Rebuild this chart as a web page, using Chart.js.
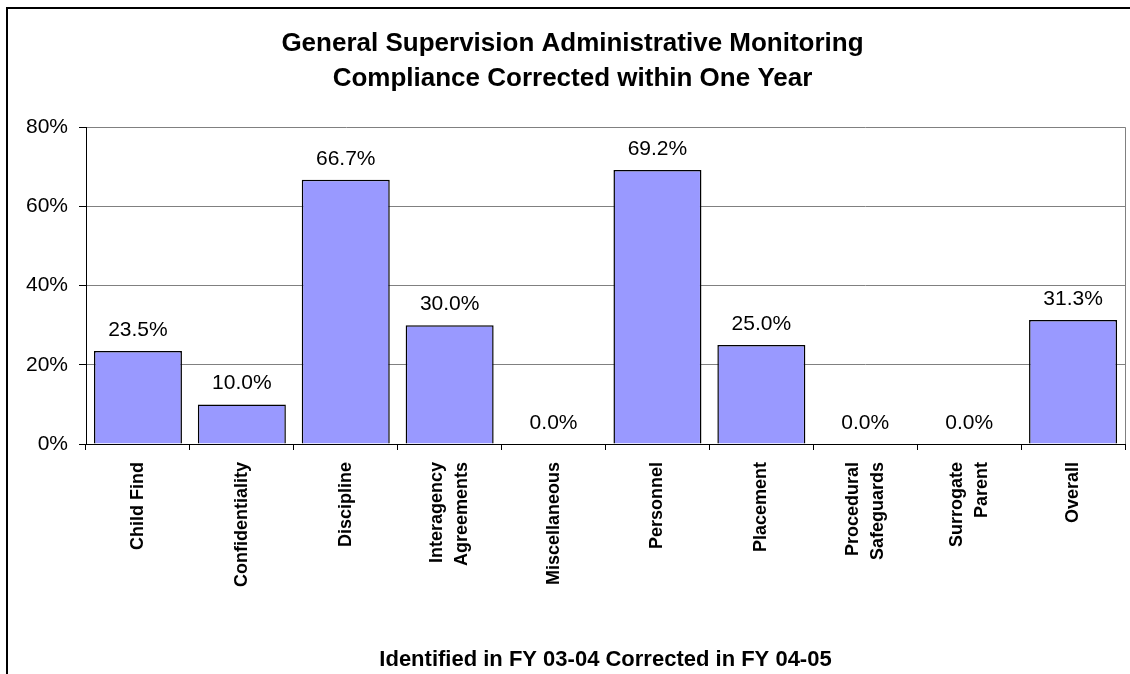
<!DOCTYPE html>
<html>
<head>
<meta charset="utf-8">
<title>General Supervision Administrative Monitoring</title>
<script src="https://cdn.jsdelivr.net/npm/chart.js@4.4.0/dist/chart.umd.min.js"></script>
<style>
  html, body { margin: 0; padding: 0; background: #ffffff; overflow: hidden; }
  #wrap { position: relative; width: 1130px; height: 674px; }
</style>
</head>
<body>
<div id="wrap"><canvas id="complianceChart"></canvas></div>
<script>
// Chart data
const categories = [
  ["Child Find"],
  ["Confidentiality"],
  ["Discipline"],
  ["Interagency", "Agreements"],
  ["Miscellaneous"],
  ["Personnel"],
  ["Placement"],
  ["Procedural", "Safeguards"],
  ["Surrogate", "Parent"],
  ["Overall"],
];
const correctedPct = [23.5, 10.0, 66.7, 30.0, 0.0, 69.2, 25.0, 0.0, 0.0, 31.3];
const yTickValues = [0, 20, 40, 60, 80];
const titleLines = [
  "General Supervision Administrative Monitoring",
  "Compliance Corrected within One Year",
];
const xAxisTitle = "Identified in FY 03-04 Corrected in FY 04-05";

const fontFamily = "'Liberation Sans', Arial, sans-serif";

// White background, outer frame and the grey right edge of the plot
const framePlugin = {
  id: "frame",
  beforeDraw(chart) {
    const ctx = chart.ctx;
    ctx.save();
    ctx.fillStyle = "#ffffff";
    ctx.fillRect(0, 0, chart.width, chart.height);
    ctx.strokeStyle = "#000000";
    ctx.lineWidth = 2;
    ctx.beginPath();
    ctx.moveTo(7, chart.height);
    ctx.lineTo(7, 8);
    ctx.lineTo(chart.width, 8);
    ctx.stroke();
    ctx.restore();
  },
  afterDraw(chart) {
    const { ctx, chartArea } = chart;
    ctx.save();
    ctx.strokeStyle = "#808080";
    ctx.lineWidth = 1;
    ctx.beginPath();
    ctx.moveTo(chartArea.right + 0.5, chartArea.top);
    ctx.lineTo(chartArea.right + 0.5, chartArea.bottom);
    ctx.stroke();
    ctx.restore();
  },
};

// Value labels above the bars
const barLabelPlugin = {
  id: "barLabels",
  afterDatasetsDraw(chart) {
    const ctx = chart.ctx;
    const meta = chart.getDatasetMeta(0);
    ctx.save();
    ctx.font = "21px " + fontFamily;
    ctx.fillStyle = "#000000";
    ctx.textAlign = "center";
    ctx.textBaseline = "alphabetic";
    meta.data.forEach((bar, i) => {
      ctx.fillText(correctedPct[i].toFixed(1) + "%", bar.x, bar.y - 15);
    });
    ctx.restore();
  },
};

// Rotated category labels, multi-line ones centred on the tick
const categoryLabelPlugin = {
  id: "categoryLabels",
  afterDraw(chart) {
    const ctx = chart.ctx;
    const xScale = chart.scales.x;
    const lineGap = 25;
    ctx.save();
    ctx.font = "bold 18px " + fontFamily;
    ctx.fillStyle = "#000000";
    ctx.textAlign = "right";
    ctx.textBaseline = "middle";
    categories.forEach((lines, i) => {
      const x = xScale.getPixelForTick(i);
      lines.forEach((line, j) => {
        const dx = (j - (lines.length - 1) / 2) * lineGap;
        ctx.save();
        ctx.translate(x + dx, xScale.top + 18);
        ctx.rotate(-Math.PI / 2);
        ctx.fillText(line, 0, 0);
        ctx.restore();
      });
    });
    ctx.restore();
  },
};

function initComplianceChart() {
  const ctx = document.getElementById("complianceChart");

  const config = {
    type: "bar",
    data: {
      labels: categories,
      datasets: [
        {
          label: "Corrected",
          data: correctedPct,
          backgroundColor: "#9999ff",
          borderColor: "#000000",
          borderWidth: 1.5,
          barPercentage: 0.847,
          categoryPercentage: 1.0,
        },
      ],
    },
    options: {
      responsive: true,
      maintainAspectRatio: false,
      animation: false,
      events: [],
      layout: {
        padding: { left: 20, right: 5, top: 0, bottom: 0 },
      },
      plugins: {
        legend: { display: false },
        tooltip: { enabled: false },
        title: {
          display: true,
          text: titleLines,
          color: "#000000",
          font: { size: 26, weight: "bold", family: fontFamily, lineHeight: 1.35 },
          padding: { top: 26, bottom: 31 },
        },
      },
      scales: {
        x: {
          afterFit: (scale) => {
            scale.height = 230;
          },
          grid: {
            offset: true,
            drawOnChartArea: false,
            drawTicks: true,
            tickLength: 6,
            color: "#000000",
          },
          border: { display: true, color: "#000000", width: 1 },
          ticks: { display: false },
          title: {
            display: true,
            text: xAxisTitle,
            color: "#000000",
            font: { size: 22, weight: "bold", family: fontFamily, lineHeight: 1.2 },
            padding: { top: 0, bottom: 1 },
          },
        },
        y: {
          min: 0,
          max: 80,
          afterFit: (scale) => {
            scale.width = 66;
          },
          afterBuildTicks: (scale) => {
            scale.ticks = yTickValues.map((v) => ({ value: v }));
          },
          grid: {
            color: (c) => (c.tick && c.tick.value === 0 ? "#000000" : "#808080"),
            lineWidth: 1,
            tickColor: "#000000",
            tickLength: 7,
          },
          border: { display: true, color: "#000000", width: 1 },
          ticks: {
            padding: 11,
            color: "#000000",
            font: { size: 21, family: fontFamily },
            callback: function (value) {
              return value + "%";
            },
          },
        },
      },
    },
    plugins: [framePlugin, barLabelPlugin, categoryLabelPlugin],
  };

  return new Chart(ctx, config);
}

initComplianceChart();
</script>
</body>
</html>
